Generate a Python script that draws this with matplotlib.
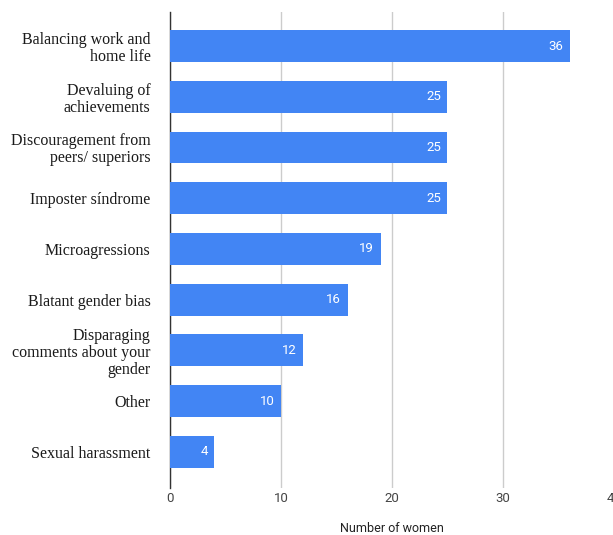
import matplotlib.pyplot as plt

categories = [
    "Balancing work and\nhome life",
    "Devaluing of\nachievements",
    "Discouragement from\npeers/ superiors",
    "Imposter síndrome",
    "Microagressions",
    "Blatant gender bias",
    "Disparaging\ncomments about your\ngender",
    "Other",
    "Sexual harassment",
]
values = [36, 25, 25, 25, 19, 16, 12, 10, 4]
xticks = [0, 10, 20, 30, 40]

fig = plt.figure(figsize=(6.13, 5.35), dpi=100)
ax = fig.add_axes([170 / 613, 1 - 488 / 535, 444 / 613, 476 / 535])

pos = list(range(len(categories)))
ax.barh(pos, values, height=0.63, color="#4285f4", zorder=3)
for p, v in zip(pos, values):
    ax.text(v - 0.6, p, str(v), color="white", ha="right", va="center",
            fontsize=9.5, family="Roboto", zorder=4)

ax.set_xlim(0, 40)
ax.set_ylim(8.71, -0.67)
ax.set_xticks(xticks)
ax.set_xticklabels([str(t) for t in xticks], family="Roboto", fontsize=9.5, color="#444444")
ax.set_yticks(pos)
ax.set_yticklabels(categories, family="Liberation Serif", fontsize=11.5, color="#1a1a1a",
                   linespacing=1.07)
ax.tick_params(axis="y", length=0, pad=14)
ax.tick_params(axis="x", length=0, pad=3)
ax.grid(axis="x", color="#cccccc", linewidth=1, zorder=0)
for s in ["top", "right", "bottom"]:
    ax.spines[s].set_visible(False)
ax.spines["left"].set_color("#333333")
ax.spines["left"].set_linewidth(1)
fig.text(392 / 613, 1 - 528 / 535, "Number of women", family="Roboto", fontsize=9,
         color="#222222", ha="center", va="center")

fig.savefig("out.png", dpi=100)
